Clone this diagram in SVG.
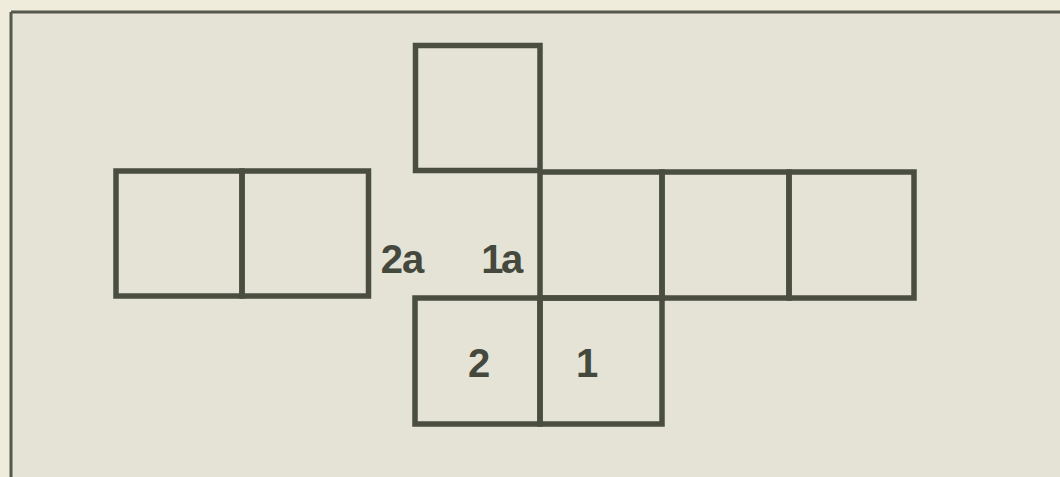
<svg xmlns="http://www.w3.org/2000/svg" width="1060" height="477" viewBox="0 0 1060 477">
  <style>
    .frame { stroke: #55584a; stroke-width: 3; fill: none; }
    .sq { stroke: #4a4e40; stroke-width: 5.5; fill: none; stroke-linejoin: miter; stroke-linecap: square; }
    .lbl { font-family: "Liberation Sans", Arial, sans-serif; font-weight: bold; font-size: 40px; fill: #45483c; text-anchor: middle; }
  </style>
  <rect x="0" y="0" width="1060" height="477" fill="#efecdc"/>
  <rect x="11" y="12" width="1049" height="465" fill="#e4e3d6"/>
  <g id="frame">
    <line class="frame" x1="11" y1="12" x2="1060" y2="12"/>
    <line class="frame" x1="11" y1="12" x2="11" y2="477"/>
  </g>
  <g id="top-square">
    <rect class="sq" x="415.5" y="45.5" width="124.5" height="125"/>
  </g>
  <g id="left-pair">
    <rect class="sq" x="116" y="171" width="126" height="125"/>
    <rect class="sq" x="242" y="171" width="126.5" height="125"/>
  </g>
  <g id="middle-row">
    <rect class="sq" x="540" y="172" width="122" height="126"/>
    <rect class="sq" x="662" y="172" width="127" height="126"/>
    <rect class="sq" x="789" y="172" width="125" height="126"/>
  </g>
  <g id="bottom-row">
    <rect class="sq" x="415" y="298" width="125" height="126"/>
    <rect class="sq" x="540" y="298" width="122" height="126"/>
  </g>
  <g id="labels">
    <text class="lbl" x="402" y="273" letter-spacing="-1">2a</text>
    <text class="lbl" x="501" y="273" letter-spacing="-2.5">1a</text>
    <text class="lbl" x="479" y="377">2</text>
    <text class="lbl" x="587" y="377">1</text>
  </g>
  <g id="connectors"></g>
</svg>
